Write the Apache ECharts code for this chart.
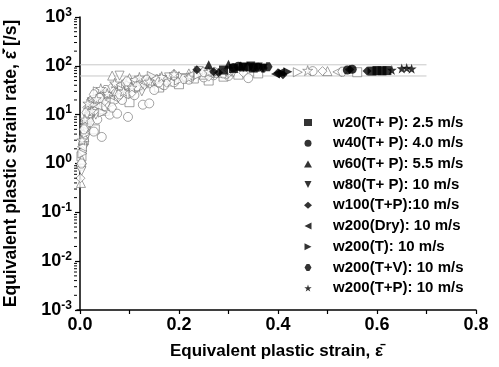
<!DOCTYPE html>
<html>
<head>
<meta charset="utf-8">
<script src="https://cdn.jsdelivr.net/npm/echarts@6/dist/echarts.min.js"></script>
<style>html,body{margin:0;padding:0;background:#fff;}#c{width:499px;height:367px;}</style>
</head>
<body>
<div id="c"></div>
<script>
// ---- data ----
const seriesNames = ["w20(T+ P): 2.5 m/s","w40(T+ P): 4.0 m/s","w60(T+ P): 5.5 m/s","w80(T+ P): 10 m/s","w100(T+P):10 m/s","w200(Dry): 10 m/s","w200(T): 10 m/s","w200(T+V): 10 m/s","w200(T+P): 10 m/s"];

const w20Open = [[0.003,1.4],[0.008,3],[0.012,6],[0.018,9],[0.025,14],[0.03,5],[0.04,18],[0.05,12],[0.06,22],[0.075,28],[0.09,34],[0.1,18],[0.12,38],[0.14,44],[0.16,36],[0.18,48],[0.2,42],[0.23,55],[0.26,50],[0.29,60],[0.32,66],[0.36,70],[0.56,74]];
const w20Filled = [[0.29,82],[0.31,88],[0.33,95],[0.35,90],[0.59,78],[0.6,80],[0.61,79],[0.62,80]];

const w40Open = [[0.002,0.9],[0.006,2.5],[0.01,4],[0.015,7],[0.02,11],[0.028,4.5],[0.035,8],[0.044,3.5],[0.05,15],[0.06,10],[0.075,10.5],[0.085,20],[0.097,9],[0.11,25],[0.127,16],[0.14,17],[0.15,32],[0.17,40],[0.19,46],[0.22,52],[0.25,58],[0.27,64],[0.3,62],[0.34,56],[0.47,78]];
const w40Filled = [[0.31,92],[0.32,98],[0.34,96],[0.36,93],[0.54,82],[0.55,85]];

const w60Open = [[0.002,0.4],[0.004,1.2],[0.009,3.5],[0.014,8],[0.02,16],[0.03,20],[0.04,13],[0.05,24],[0.065,63],[0.07,30],[0.085,42],[0.1,56],[0.12,48],[0.14,58],[0.17,52],[0.2,62],[0.22,70],[0.25,66],[0.28,72],[0.5,78]];
const w60Filled = [[0.26,105],[0.3,108],[0.325,100]];

const w80Open = [[0.003,0.7],[0.007,2],[0.012,5],[0.017,12],[0.024,18],[0.032,10],[0.045,22],[0.055,16],[0.065,30],[0.08,63],[0.095,36],[0.11,44],[0.125,30],[0.15,50],[0.18,58],[0.21,56],[0.24,78],[0.27,68],[0.31,74]];
const w80Filled = [[0.33,92],[0.345,99],[0.36,95],[0.37,88]];

const w100Open = [[0.001,0.5],[0.005,1.8],[0.01,7],[0.015,14],[0.022,20],[0.03,12],[0.038,25],[0.05,19],[0.062,35],[0.078,23],[0.09,45],[0.105,28],[0.13,40],[0.155,55],[0.175,45],[0.2,60],[0.23,64],[0.26,60],[0.3,70],[0.33,72],[0.49,78]];
const w100Filled = [[0.236,83],[0.27,76],[0.28,72],[0.4,72],[0.41,66],[0.545,84],[0.58,78]];

const dryOpen = [[0.004,2.2],[0.009,6],[0.016,10],[0.025,22],[0.035,15],[0.048,28],[0.06,20],[0.075,38],[0.09,26],[0.11,52],[0.13,46],[0.16,40],[0.19,55],[0.22,62],[0.26,70],[0.29,66],[0.52,75]];
const dryFilled = [[0.395,68],[0.405,74]];

const tOpen = [[0.005,1.6],[0.011,4],[0.018,9],[0.027,16],[0.036,30],[0.046,11],[0.058,26],[0.07,18],[0.085,32],[0.1,40],[0.12,35],[0.145,62],[0.17,56],[0.2,50],[0.24,66],[0.28,76],[0.44,74]];
const tFilled = [[0.41,70],[0.42,76]];

const tvOpen = [[0.003,1],[0.008,5],[0.013,11],[0.02,7],[0.028,26],[0.04,22],[0.052,32],[0.065,14],[0.08,26],[0.095,48],[0.115,38],[0.135,52],[0.16,46],[0.19,64],[0.21,54],[0.25,74],[0.29,70],[0.53,76]];
const tvFilled = [[0.35,94],[0.37,90],[0.38,96]];

const tpOpen = [[0.004,3],[0.01,8],[0.016,17],[0.024,12],[0.033,21],[0.042,34],[0.055,27],[0.07,44],[0.088,30],[0.105,36],[0.12,58],[0.14,48],[0.165,60],[0.19,68],[0.22,58],[0.26,76],[0.3,78],[0.46,80]];
const tpFilled = [[0.63,82],[0.65,88],[0.66,90],[0.67,87]];

const refLineValues = [105, 62];
const refLineRange = [0, 0.7];

const xLabelValues = [0, 0.2, 0.4, 0.6, 0.8];
const xTickValues = [0, 0.1, 0.2, 0.3, 0.4, 0.5, 0.6, 0.7, 0.8];
const yDecades = [0.001, 0.01, 0.1, 1, 10, 100, 1000];
const yMinorTicks = [];
for (let k = -3; k <= 2; k++) for (let m = 2; m <= 9; m++) yMinorTicks.push(m * Math.pow(10, k));

// ---- build ----
const FONT = "'Liberation Sans', Arial, sans-serif";
const XMIN = -0.006;
const symbols = [
  'rect', 'circle', 'triangle',
  'path://M0,0 L10,0 L5,10 Z',
  'diamond',
  'path://M10,0 L10,10 L0,5 Z',
  'path://M0,0 L0,10 L10,5 Z',
  'path://M3,0 L7,0 L10,5 L7,10 L3,10 L0,5 Z',
  'path://M5,0 L6.2,3.6 L10,3.6 L6.9,5.9 L8.1,9.5 L5,7.3 L1.9,9.5 L3.1,5.9 L0,3.6 L3.8,3.6 Z'
];
const openSets = [w20Open, w40Open, w60Open, w80Open, w100Open, dryOpen, tOpen, tvOpen, tpOpen];
const filledSets = [w20Filled, w40Filled, w60Filled, w80Filled, w100Filled, dryFilled, tFilled, tvFilled, tpFilled];

const series = [];
refLineValues.forEach((v, i) => {
  series.push({
    type: 'line', name: 'ref' + i, data: refLineRange.map(x => [x, v]),
    symbol: 'none', silent: true, z: 1,
    lineStyle: { color: '#c8c8c8', width: 1 }
  });
});
openSets.forEach((d, i) => {
  series.push({
    type: 'scatter', name: 'open' + i, data: d, symbol: symbols[i],
    symbolSize: i === 8 ? 10 : 9, z: 2,
    itemStyle: { color: '#ffffff', borderColor: '#6e6e6e', borderWidth: 0.8 }
  });
});
filledSets.forEach((d, i) => {
  series.push({
    type: 'scatter', name: seriesNames[i], data: d, symbol: symbols[i],
    symbolSize: i === 8 ? 10 : 9, z: 3,
    itemStyle: { color: '#000000' }
  });
});
series.push({
  type: 'custom', name: 'minorTicks', silent: true, z: 5,
  data: yMinorTicks.map(v => [XMIN, v]),
  clip: false,
  renderItem: function (params, api) {
    const p = api.coord([api.value(0), api.value(1)]);
    return { type: 'line', shape: { x1: p[0] - 3, y1: p[1], x2: p[0], y2: p[1] }, style: { stroke: '#000', lineWidth: 1 } };
  }
});

const chart = echarts.init(document.getElementById('c'), null, { renderer: 'canvas' });
chart.setOption({
  animation: false,
  backgroundColor: '#fff',
  textStyle: { fontFamily: FONT },
  grid: { left: 77, right: 23, top: 17, bottom: 57, containLabel: false, outerBoundsMode: 'none' },
  legend: {
    data: seriesNames,
    orient: 'vertical', left: 304, top: 115, padding: 0,
    itemWidth: 8, itemHeight: 7, itemGap: 5.7,
    textStyle: { fontFamily: FONT, fontSize: 15, fontWeight: 'bold', color: '#000', lineHeight: 15, padding: [0, 0, 0, 16] }
  },
  xAxis: {
    type: 'value', min: XMIN, max: 0.8,
    name: 'Equivalent plastic strain, \u03b5\u0304', nameLocation: 'middle', nameGap: 33,
    nameTextStyle: { fontFamily: FONT, fontSize: 17, fontWeight: 'bold', color: '#000' },
    axisLine: { lineStyle: { color: '#000', width: 1.5 } },
    axisTick: { inside: false, length: 4, customValues: xTickValues, lineStyle: { color: '#000', width: 1.2 } },
    axisLabel: { customValues: xLabelValues, formatter: v => v.toFixed(1), fontFamily: FONT, fontSize: 18, fontWeight: 'bold', color: '#000', margin: 6 },
    splitLine: { show: false }
  },
  yAxis: {
    type: 'log', min: 0.001, max: 1000, logBase: 10,
    name: 'Equivalent plastic strain rate, \u03b5\u0304\u0307 [/s]', nameLocation: 'middle', nameGap: 57, nameRotate: 90,
    nameTextStyle: { fontFamily: FONT, fontSize: 17.5, fontWeight: 'bold', color: '#000' },
    axisLine: { show: true, lineStyle: { color: '#000', width: 1.5 } },
    axisTick: { inside: false, length: 5, customValues: yDecades, lineStyle: { color: '#000', width: 1.2 } },
    axisLabel: {
      customValues: yDecades, margin: 5, fontFamily: FONT, color: '#000',
      formatter: function (v) { const e = Math.round(Math.log10(v)); return '{b|10}{s|' + e + '}'; },
      rich: {
        b: { fontFamily: FONT, fontSize: 18, fontWeight: 'bold', color: '#000' },
        s: { fontFamily: FONT, fontSize: 12, fontWeight: 'bold', color: '#000', verticalAlign: 'top', padding: [0, 0, 9, 0] }
      }
    },
    splitLine: { show: false }
  },
  series: series
});
</script>
</body>
</html>
